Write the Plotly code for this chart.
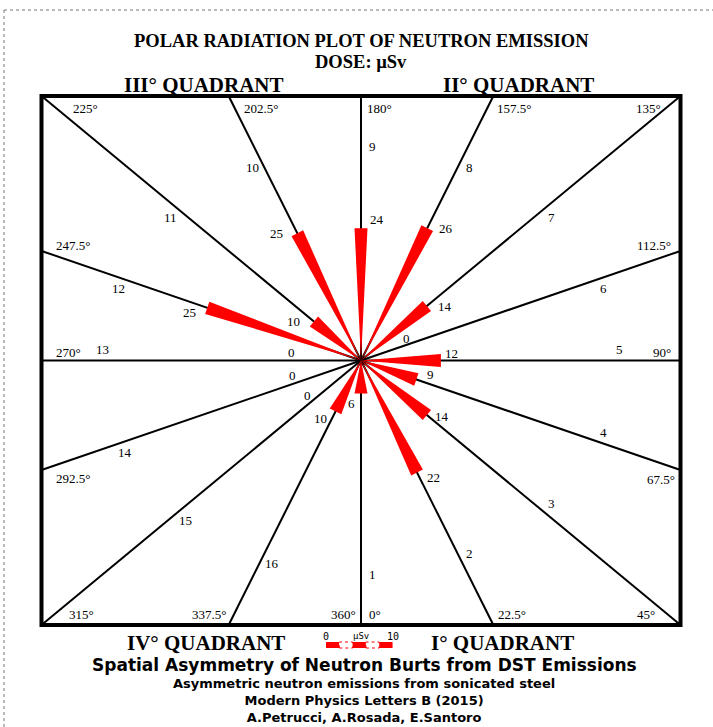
import math
import plotly.graph_objects as go

# ---------------- data ----------------
angles_deg = [0, 22.5, 45, 67.5, 90, 112.5, 135, 157.5, 180,
              202.5, 225, 247.5, 270, 292.5, 315, 337.5]
dose_usv = [6, 22, 14, 9, 12, 0, 14, 26, 24, 25, 10, 25, 0, 0, 0, 10]
line_numbers = [str(i) for i in range(1, 17)]
degree_labels = ["0°", "22.5°", "45°", "67.5°", "90°", "112.5°", "135°", "157.5°",
                 "180°", "202.5°", "225°", "247.5°", "270°", "292.5°", "315°", "337.5°"]
closing_label = "360°"
legend_ticks = [0, 2, 4, 6, 8, 10]
legend_unit = "µSv"
full_scale_usv = 48  # dose that reaches the box edge

# ---------------- geometry (pixel frame) ----------------
W, H = 713, 727
CX, CY = 361.0, 360.5
SX, SY = 319.5, 264.5
x_range = [(0 - CX) / SX, (W - CX) / SX]
y_range = [(CY - H) / SY, CY / SY]


def px(x):
    return x / W


def py(y):
    return 1 - y / H


def unit_px(theta):
    dx, dy = math.sin(theta) * SX, math.cos(theta) * SY
    n = math.hypot(dx, dy)
    return dx / n, dy / n


SERIF = "Liberation Serif, Times New Roman, serif"
SANS = "DejaVu Sans, Verdana, sans-serif"
MONO = "DejaVu Sans Mono, monospace"

fig = go.Figure()

# spokes
lx, ly = [], []
for a in angles_deg:
    t = math.radians(a)
    s, c = math.sin(t), -math.cos(t)
    m = max(abs(s), abs(c))
    lx += [0, s / m, None]
    ly += [0, c / m, None]
fig.add_trace(go.Scatter(x=lx, y=ly, mode="lines", line=dict(color="black", width=2),
                         hoverinfo="skip", showlegend=False))

# wedges
HALF_W = 6.5
for a, v in zip(angles_deg, dose_usv):
    if v <= 0:
        continue
    t = math.radians(a)
    r = v / full_scale_usv
    tx, ty = r * math.sin(t), -r * math.cos(t)
    ux, uy = unit_px(t)
    ox, oy = -uy * HALF_W / SX, -ux * HALF_W / SY
    fig.add_trace(go.Scatter(x=[0, tx + ox, tx - ox, 0], y=[0, ty + oy, ty - oy, 0],
                             mode="lines", fill="toself", fillcolor="#ff0000",
                             line=dict(width=0, color="#ff0000"),
                             hoverinfo="skip", showlegend=False))

annotations = []


def add_text(x, y, text, size, font=SERIF, xanchor="center", yanchor="middle",
             xshift=0, yshift=0, ref="paper", color="black"):
    annotations.append(dict(x=x, y=y, xref="x" if ref == "data" else "paper",
                            yref="y" if ref == "data" else "paper",
                            text=text, showarrow=False, xanchor=xanchor, yanchor=yanchor,
                            xshift=xshift, yshift=yshift,
                            font=dict(family=font, size=size, color=color)))


# value labels (style: anchor side and pixel nudge per spoke)
value_style = [("right", -4, -10), ("left", 8, -5), ("left", 6, -1), ("left", 9, 5),
               ("left", 2, 7), ("right", -8, 2), ("left", 9, -1), ("left", 10, 0),
               ("left", 7, 9), ("right", -12, 0), ("right", -12, 0), ("right", -9, -5),
               ("right", 0, 8), ("right", -4, 5), ("right", -3, 2), ("right", -7, -7)]
for a, v, (xa, xs, ys) in zip(angles_deg, dose_usv, value_style):
    t = math.radians(a)
    r = 0.2 if v == 0 else v / full_scale_usv
    add_text(r * math.sin(t), -r * math.cos(t), str(v), 13, xanchor=xa,
             xshift=xs, yshift=ys, ref="data")

# spoke numbers
flip_side = {112.5, 135, 157.5, 180, 270}
for a, lab in zip(angles_deg, line_numbers):
    t = math.radians(a)
    r = 0.81
    ux, uy = unit_px(t)
    nx, ny = uy, -ux
    if a in flip_side:
        nx, ny = -nx, -ny
    add_text(r * math.sin(t), -r * math.cos(t), lab, 13,
             xshift=11 * nx, yshift=-11 * ny, ref="data")

# degree labels at spoke ends (style)
deg_style = {0: ("left", 6, 11), 22.5: ("left", 3, 11), 45: ("right", -24, 11),
             67.5: ("right", -4, -9), 90: ("right", -8, 8), 112.5: ("right", -8, 5),
             135: ("right", -18, -12), 157.5: ("left", 2, -12), 180: ("left", 4, -12),
             202.5: ("left", 13, -12), 225: ("left", 29, -12), 247.5: ("left", 12, 5),
             270: ("left", 12, 8), 292.5: ("left", 12, -8), 315: ("left", 25, 11),
             337.5: ("right", -1, 11)}
for a, lab in zip(angles_deg, degree_labels):
    t = math.radians(a)
    s, c = math.sin(t), -math.cos(t)
    m = max(abs(s), abs(c))
    xa, xs, ys = deg_style[a]
    add_text(s / m, c / m, lab, 13, xanchor=xa, xshift=xs, yshift=ys, ref="data")
add_text(0, -1, closing_label, 13, xanchor="right", xshift=-3, yshift=11, ref="data")

# scale bar legend
bar_x0 = (326 - CX) / SX
bar_y0, bar_y1 = (CY - 648) / SY, (CY - 642) / SY
shapes = []
for i in range(len(legend_ticks) - 1):
    xa = bar_x0 + legend_ticks[i] / full_scale_usv
    xb = bar_x0 + legend_ticks[i + 1] / full_scale_usv
    if i % 2 == 0:
        shapes.append(dict(type="rect", xref="x", yref="y", x0=xa, x1=xb, y0=bar_y0, y1=bar_y1,
                           fillcolor="#ff0000", line=dict(width=0)))
    else:
        shapes.append(dict(type="rect", xref="x", yref="y", x0=xa, x1=xb, y0=bar_y0, y1=bar_y1,
                           fillcolor="white", line=dict(width=1, color="#ff0000", dash="dot")))
lab_y = (CY - 636) / SY
add_text(bar_x0 + legend_ticks[0] / full_scale_usv, lab_y, str(legend_ticks[0]), 10,
         font=MONO, ref="data")
add_text(bar_x0 + legend_ticks[-1] / full_scale_usv, lab_y, str(legend_ticks[-1]), 10,
         font=MONO, ref="data")
add_text(bar_x0 + (legend_ticks[-1] / 2 + 0.3) / full_scale_usv, lab_y, legend_unit, 9,
         font=MONO, ref="data")

# box
shapes.append(dict(type="rect", xref="x", yref="y", x0=-1, x1=1, y0=-1, y1=1,
                   line=dict(color="black", width=4), fillcolor="rgba(0,0,0,0)"))
# dotted page frame
shapes.append(dict(type="line", xref="paper", yref="paper", x0=px(4), x1=1, y0=py(10), y1=py(10),
                   line=dict(color="#777777", width=1, dash="dot")))
shapes.append(dict(type="line", xref="paper", yref="paper", x0=px(4), x1=px(4), y0=py(10), y1=0,
                   line=dict(color="#777777", width=1, dash="dot")))

# titles
add_text(px(361), py(41), "<b>POLAR RADIATION PLOT OF NEUTRON EMISSION</b>", 18.5)
add_text(px(361), py(62), "<b>DOSE: µSv</b>", 18.5)
add_text(px(204), py(85), "<b>III° QUADRANT</b>", 21)
add_text(px(518), py(85), "<b>II° QUADRANT</b>", 21)
add_text(px(206), py(643), "<b>IV° QUADRANT</b>", 21)
add_text(px(503), py(643), "<b>I° QUADRANT</b>", 21)
add_text(px(364), py(665), "<b>Spatial Asymmetry of Neutron Burts from DST Emissions</b>", 17, font=SANS)
add_text(px(364), py(700),
         "<b>Asymmetric neutron emissions from sonicated steel<br>"
         "Modern Physics Letters B (2015)<br>"
         "A.Petrucci, A.Rosada, E.Santoro</b>", 13, font=SANS)

fig.update_layout(
    width=W, height=H, margin=dict(l=0, r=0, t=0, b=0),
    paper_bgcolor="white", plot_bgcolor="white",
    xaxis=dict(range=x_range, visible=False, fixedrange=True),
    yaxis=dict(range=y_range, visible=False, fixedrange=True),
    shapes=shapes, annotations=annotations, showlegend=False,
)

fig.write_html("out.html", config={"displayModeBar": False},
               post_script="document.body.style.margin='0';document.body.style.overflow='hidden';")
